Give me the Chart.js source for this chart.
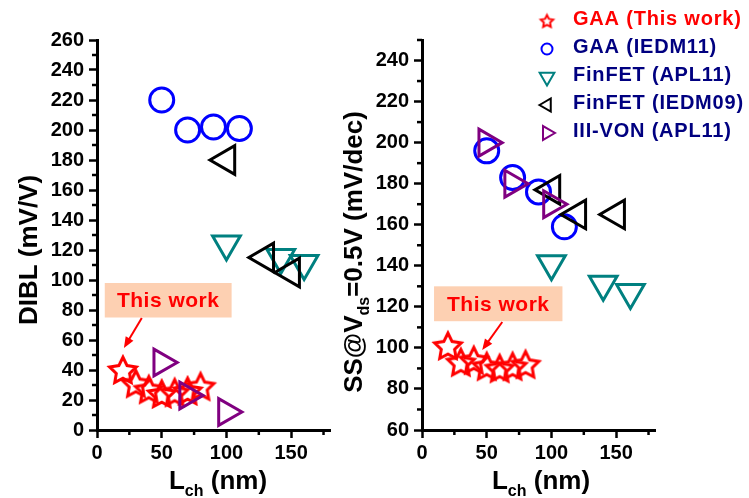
<!DOCTYPE html>
<html>
<head>
<meta charset="utf-8">
<script src="https://cdn.jsdelivr.net/npm/chart.js@4.4.1/dist/chart.umd.min.js"></script>
<style>
  html, body { margin: 0; padding: 0; background: #fff; }
  #wrap { position: relative; width: 749px; height: 498px; }
  #wrap canvas { position: absolute; left: 0; top: 0; }
</style>
</head>
<body>
<div id="wrap">
  <canvas id="diblChart" width="749" height="498"></canvas>
  <canvas id="ssChart" width="749" height="498"></canvas>
</div>
<script>
// series, L_ch in nm
const seriesLabels = ['GAA (This work)', 'GAA (IEDM11)', 'FinFET (APL11)', 'FinFET (IEDM09)', 'III-VON (APL11)'];

const lchThisWork = [20, 30, 40, 50, 60, 70, 80];
const diblThisWork = [40, 31, 27, 24, 25, 26, 29];
const ssThisWork = [101, 93, 94, 91, 90, 91, 92];

const lchIedm11 = [50, 70, 90, 110];
const diblIedm11 = [220, 200, 202, 201];
const ssIedm11 = [196, 183, 176, 159];

const lchApl11Dibl = [100, 142, 160];
const diblApl11 = [124, 115, 111];
const lchApl11Ss = [100, 140, 161];
const ssApl11 = [141, 131, 127];

const lchIedm09Dibl = [100, 130, 150];
const diblIedm09 = [180, 115, 105];
const lchIedm09Ss = [100, 120, 150];
const ssIedm09 = [177, 165, 165];

const lchIiiVon = [50, 70, 100];
const diblIiiVon = [45, 23, 12];
const ssIiiVon = [200, 180, 170];

// labelled ticks
const xTickValues = [0, 50, 100, 150];
const diblTickValues = [0, 20, 40, 60, 80, 100, 120, 140, 160, 180, 200, 220, 240, 260];
const ssTickValues = [60, 80, 100, 120, 140, 160, 180, 200, 220, 240];

const FONT = "'Liberation Sans', Arial, sans-serif";
const TITLE_FONT = 'bold 26px ' + FONT;
const SUB_FONT = 'bold 16px ' + FONT;

function starPath(g, cx, cy, R, r) {
    g.beginPath();
    for (let i = 0; i < 10; i++) {
        const rad = -Math.PI / 2 + i * Math.PI / 5;
        const rr = i % 2 === 0 ? R : r;
        const px = cx + Math.cos(rad) * rr, py = cy + Math.sin(rad) * rr;
        if (i === 0) g.moveTo(px, py); else g.lineTo(px, py);
    }
    g.closePath();
}

function makeStar(R, lw, color) {
    const size = Math.ceil(2 * R + 2 * lw + 6);
    const c = document.createElement('canvas');
    c.width = c.height = size;
    const g = c.getContext('2d');
    g.strokeStyle = color;
    g.lineWidth = lw;
    g.lineJoin = 'miter';
    starPath(g, size / 2, size / 2 + R * 0.09, R, R * 0.5);
    g.stroke();
    return c;
}

const styles = [
    { color: '#ff0000', pointStyle: makeStar(14, 3, '#ff0000'), rotation: 0, radius: 14,
      legend: { pointStyle: makeStar(6.5, 2, '#ff0000'), radius: 6, width: 2 } },
    { color: '#0000ff', pointStyle: 'circle', rotation: 0, radius: 12,
      legend: { pointStyle: 'circle', radius: 5.5, width: 2 } },
    { color: '#008080', pointStyle: 'triangle', rotation: 180, radius: 16,
      legend: { pointStyle: 'triangle', radius: 8.5, width: 2 } },
    { color: '#000000', pointStyle: 'triangle', rotation: 270, radius: 16.5,
      legend: { pointStyle: 'triangle', radius: 7.5, width: 2 } },
    { color: '#800080', pointStyle: 'triangle', rotation: 90, radius: 15.5,
      legend: { pointStyle: 'triangle', radius: 8, width: 2 } }
];

const pts = (xs, ys) => xs.map((x, i) => ({ x: x, y: ys[i] }));

function makeDatasets(series) {
    return series.map((s, i) => ({
        label: seriesLabels[i],
        data: pts(s[0], s[1]),
        showLine: false,
        pointStyle: styles[i].pointStyle,
        pointRotation: styles[i].rotation,
        pointRadius: styles[i].radius,
        pointBorderWidth: 3,
        borderColor: styles[i].color,
        pointBorderColor: styles[i].color,
        backgroundColor: 'rgba(0,0,0,0)',
        pointBackgroundColor: 'rgba(0,0,0,0)',
        order: series.length - 1 - i,
        clip: false
    }));
}

function drawRich(ctx, parts, x, y, vertical) {
    ctx.save();
    ctx.translate(x, y);
    if (vertical) ctx.rotate(-Math.PI / 2);
    const widths = parts.map(p => {
        ctx.font = p.sub ? SUB_FONT : TITLE_FONT;
        return ctx.measureText(p.t).width;
    });
    let cx = -widths.reduce((a, b) => a + b, 0) / 2;
    ctx.fillStyle = '#000';
    ctx.textAlign = 'left';
    ctx.textBaseline = 'alphabetic';
    parts.forEach((p, i) => {
        ctx.font = p.sub ? SUB_FONT : TITLE_FONT;
        ctx.fillText(p.t, cx, p.sub ? 7 : 0);
        cx += widths[i];
    });
    ctx.restore();
}

function axisTitles(xParts, xAt, yParts, yAt) {
    return {
        id: 'axisTitles',
        afterDraw(chart) {
            drawRich(chart.ctx, xParts, xAt[0], xAt[1], false);
            drawRich(chart.ctx, yParts, yAt[0], yAt[1], true);
        }
    };
}

// shorter unlabeled ticks between the major ones
const minorTicks = {
    id: 'minorTicks',
    afterDraw(chart) {
        const ctx = chart.ctx, xs = chart.scales.x, ys = chart.scales.y, area = chart.chartArea;
        ctx.save();
        ctx.strokeStyle = '#000';
        ctx.lineWidth = 2.5;
        for (let v = xs.min + 25; v < xs.max + 0.1; v += 50) {
            const px = xs.getPixelForValue(v);
            ctx.beginPath(); ctx.moveTo(px, area.bottom); ctx.lineTo(px, area.bottom + 5); ctx.stroke();
        }
        for (let v = ys.min + 10; v < ys.max + 0.1; v += 20) {
            const py = ys.getPixelForValue(v);
            ctx.beginPath(); ctx.moveTo(area.left, py); ctx.lineTo(area.left - 5, py); ctx.stroke();
        }
        ctx.restore();
    }
};

// "This work" box + arrow, placed in data units
function callout(box, arrow) {
    return {
        id: 'callout',
        afterDraw(chart) {
            const ctx = chart.ctx, xs = chart.scales.x, ys = chart.scales.y;
            const x0 = xs.getPixelForValue(box[0]), x1 = xs.getPixelForValue(box[2]);
            const y0 = ys.getPixelForValue(box[1]), y1 = ys.getPixelForValue(box[3]);
            ctx.save();
            ctx.fillStyle = '#fdd0b2';
            ctx.fillRect(x0, y0, x1 - x0, y1 - y0);
            ctx.fillStyle = '#ff0000';
            ctx.font = 'bold 21px ' + FONT;
            ctx.letterSpacing = '0.5px';
            ctx.textAlign = 'center';
            ctx.textBaseline = 'middle';
            ctx.fillText('This work', (x0 + x1) / 2, (y0 + y1) / 2 + 1);
            const ax = xs.getPixelForValue(arrow[0]), ay = ys.getPixelForValue(arrow[1]);
            const bx = xs.getPixelForValue(arrow[2]), by = ys.getPixelForValue(arrow[3]);
            const ang = Math.atan2(by - ay, bx - ax);
            ctx.strokeStyle = '#ff0000';
            ctx.lineWidth = 2;
            ctx.beginPath();
            ctx.moveTo(ax, ay);
            ctx.lineTo(bx - Math.cos(ang) * 6, by - Math.sin(ang) * 6);
            ctx.stroke();
            ctx.beginPath();
            ctx.moveTo(bx, by);
            ctx.lineTo(bx - Math.cos(ang) * 11 + Math.sin(ang) * 4.5, by - Math.sin(ang) * 11 - Math.cos(ang) * 4.5);
            ctx.lineTo(bx - Math.cos(ang) * 11 - Math.sin(ang) * 4.5, by - Math.sin(ang) * 11 + Math.cos(ang) * 4.5);
            ctx.closePath();
            ctx.fill();
            ctx.restore();
        }
    };
}

const sideLegend = {
    id: 'sideLegend',
    afterDraw(chart) {
        const ctx = chart.ctx;
        ctx.save();
        chart.data.datasets.forEach((ds, i) => {
            const y = 19 + i * 28;
            const lg = styles[i].legend;
            ctx.strokeStyle = styles[i].color;
            ctx.fillStyle = 'rgba(0,0,0,0)';
            ctx.lineWidth = lg.width;
            Chart.helpers.drawPoint(ctx, {
                pointStyle: lg.pointStyle, radius: lg.radius,
                rotation: styles[i].rotation, borderWidth: lg.width
            }, 547, y + 2);
            ctx.fillStyle = i === 0 ? '#ff0000' : '#000080';
            ctx.font = 'bold 20px ' + FONT;
            ctx.letterSpacing = '0.8px';
            ctx.textAlign = 'left';
            ctx.textBaseline = 'middle';
            ctx.fillText(ds.label, 573, y);
        });
        ctx.restore();
    }
};

function makeScales(yMin, yMax, yTicks) {
    const tickFont = { family: FONT, size: 20, weight: 'bold' };
    const grid = { display: true, drawOnChartArea: false, drawTicks: true, tickLength: 8, tickWidth: 2.5, tickColor: '#000' };
    const border = { display: true, width: 3, color: '#000' };
    return {
        x: {
            type: 'linear', min: 0, max: 180,
            afterBuildTicks: s => { s.ticks = xTickValues.map(v => ({ value: v })); },
            afterFit: s => { s.height = 68; },
            ticks: { font: tickFont, color: '#000', padding: 3, maxRotation: 0, autoSkip: false },
            grid: grid, border: border
        },
        y: {
            type: 'linear', min: yMin, max: yMax,
            afterBuildTicks: s => { s.ticks = yTicks.map(v => ({ value: v })); },
            afterFit: s => { s.width = 97; },
            ticks: { font: tickFont, color: '#000', padding: 5, autoSkip: false },
            grid: grid, border: border
        }
    };
}

function drawCharts() {
    Chart.defaults.font.family = FONT;

    new Chart(document.getElementById('diblChart').getContext('2d'), {
        type: 'scatter',
        data: {
            datasets: makeDatasets([
                [lchThisWork, diblThisWork],
                [lchIedm11, diblIedm11],
                [lchApl11Dibl, diblApl11],
                [lchIedm09Dibl, diblIedm09],
                [lchIiiVon, diblIiiVon]
            ])
        },
        options: {
            responsive: false,
            animation: false,
            events: [],
            layout: { padding: { left: 0, top: 40, right: 749 - 330, bottom: 0 } },
            scales: makeScales(0, 260, diblTickValues),
            plugins: { legend: { display: false }, tooltip: { enabled: false } }
        },
        plugins: [
            minorTicks,
            callout([6, 98, 104, 75], [34.6, 74.7, 20.8, 54.7]),
            axisTitles([{ t: 'L' }, { t: 'ch', sub: true }, { t: ' (nm)' }], [218, 489],
                       [{ t: 'DIBL (mV/V)' }], [37, 250])
        ]
    });

    new Chart(document.getElementById('ssChart').getContext('2d'), {
        type: 'scatter',
        data: {
            datasets: makeDatasets([
                [lchThisWork, ssThisWork],
                [lchIedm11, ssIedm11],
                [lchApl11Ss, ssApl11],
                [lchIedm09Ss, ssIedm09],
                [lchIiiVon, ssIiiVon]
            ])
        },
        options: {
            responsive: false,
            animation: false,
            events: [],
            layout: { padding: { left: 422 - 97, top: 40, right: 749 - 655, bottom: 0 } },
            scales: makeScales(60, 250, ssTickValues),
            plugins: { legend: { display: false }, tooltip: { enabled: false } }
        },
        plugins: [
            minorTicks,
            callout([9.3, 130, 108.5, 113], [62, 112.6, 46.5, 99]),
            axisTitles([{ t: 'L' }, { t: 'ch', sub: true }, { t: ' (nm)' }], [541, 489],
                       [{ t: 'SS@V' }, { t: 'ds', sub: true }, { t: '=0.5V (mV/dec)' }], [362, 252]),
            sideLegend
        ]
    });
}

document.addEventListener('DOMContentLoaded', () => drawCharts());
</script>
</body>
</html>
